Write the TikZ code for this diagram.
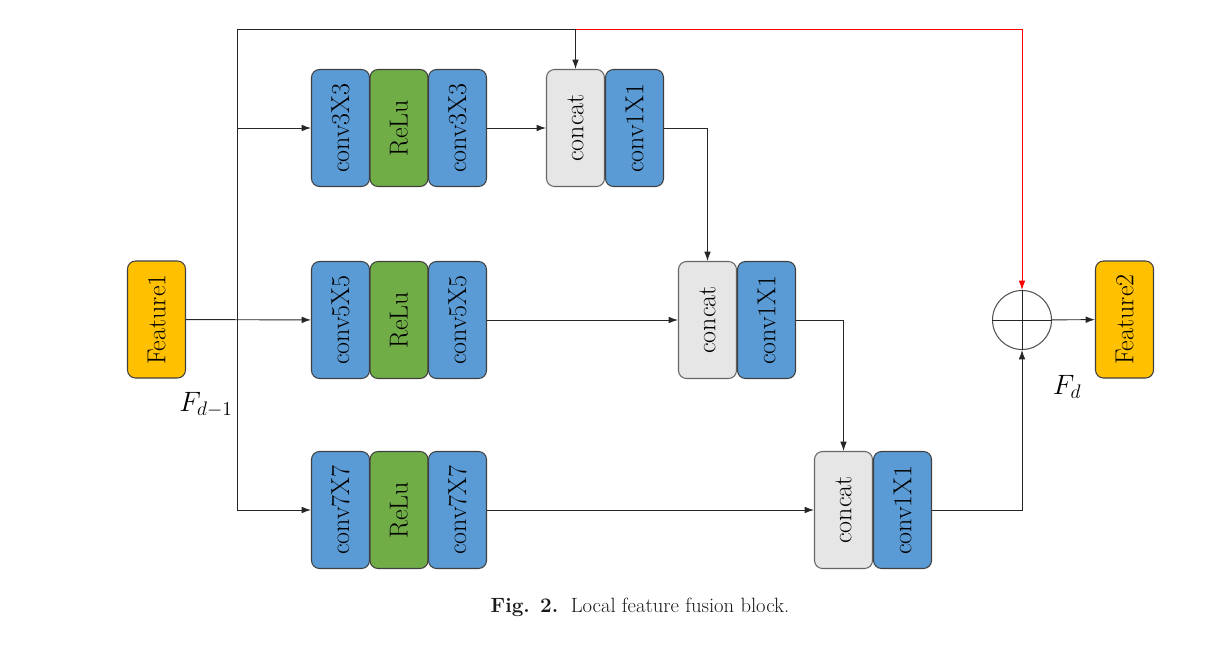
\documentclass[tikz,border=0pt]{standalone}
\usepackage{fix-cm}
\usepackage{fontspec}
\usepackage{tikz}
\usetikzlibrary{arrows.meta}
\definecolor{convblue}{HTML}{5B9BD5}
\definecolor{relugreen}{HTML}{70AD47}
\definecolor{featyellow}{HTML}{FFC000}
\definecolor{catgray}{HTML}{E7E6E6}
\definecolor{edgegray}{HTML}{404040}
\newcommand{\vtext}[1]{\rotatebox{90}{#1}}

\begin{document}
\begin{tikzpicture}[x=0.75pt,y=-0.75pt,
block/.style={draw=edgegray,line width=0.8pt,rounded corners=6pt,
	minimum width=43.5pt,minimum height=87.75pt,inner sep=0pt,
	font=\fontsize{19.5}{22}\selectfont},
conv/.style={block,fill=convblue},
relu/.style={block,fill=relugreen},
cat/.style={block,fill=catgray,draw=edgegray!80},
feat/.style={block,fill=featyellow},
arr/.style={-{Latex[length=7pt,width=5pt]},line width=0.7pt,draw=black!85},
link/.style={line width=0.7pt,draw=black!85}]
\useasboundingbox (0,0) rectangle (1232,646);

%input and output
\node[feat](f1) at (156.5,319.5) {\vtext{Feature1}};
\node[feat](f2) at (1124.5,319.5) {\vtext{Feature2}};

%the three branches
\foreach \n/\y/\k/\cx in {1/128/3/575.5,2/320/5/707.5,3/510/7/843.5}{
	\node[conv](c\n a) at (340.5,\y) {\vtext{conv\k X\k}};
	\node[relu](r\n) at (399,\y) {\vtext{ReLu}};
	\node[conv](c\n b) at (457.5,\y) {\vtext{conv\k X\k}};
	\node[cat](cat\n) at (\cx,\y) {\vtext{concat}};
	\node[conv](cv\n) at (\cx+59,\y) {\vtext{conv1X1}};
	\draw[arr] (c\n b) -- (cat\n);
}

%sum
\node[draw=edgegray!90,line width=0.8pt,circle,minimum size=44.25pt,inner sep=0pt](sum) at (1022,320) {};
\draw[link] (sum.north) -- (sum.south) (sum.west) -- (sum.east);

%input split
\coordinate(tl) at (237,29);
\coordinate(bl) at (237,510);
\draw[link] (tl) -- (bl);
\draw[arr] (f1) -- (c2a);
\draw[arr] (tl |- c1a) -- (c1a);
\draw[arr] (bl) -- (c3a);
\draw[link] (tl) -- (cat1.north |- tl);
\draw[arr] (cat1.north |- tl) -- (cat1);
\draw[-{Latex[length=7pt,width=5pt]},line width=0.7pt,red] (cat1.north |- tl) -| (sum.north);

%cascade of the branches
\draw[arr] (cv1.east) -| (cat2.north);
\draw[arr] (cv2.east) -| (cat3.north);
\draw[arr] (cv3.east) -| (sum.south);
\draw[arr] (sum) -- (f2);

%labels
\node[font=\fontsize{21}{24}\selectfont] (ldm) at (206,405) {$F_{d-1}$};
\node[font=\fontsize{21}{24}\selectfont] (ld) at (1067,387) {$F_{d}$};
\node[font=\fontsize{15.5}{18}\selectfont,text=black!90] (cap) at (640,607) {\textbf{Fig. 2.}\ \ Local feature fusion block.};
\end{tikzpicture}
\end{document}
